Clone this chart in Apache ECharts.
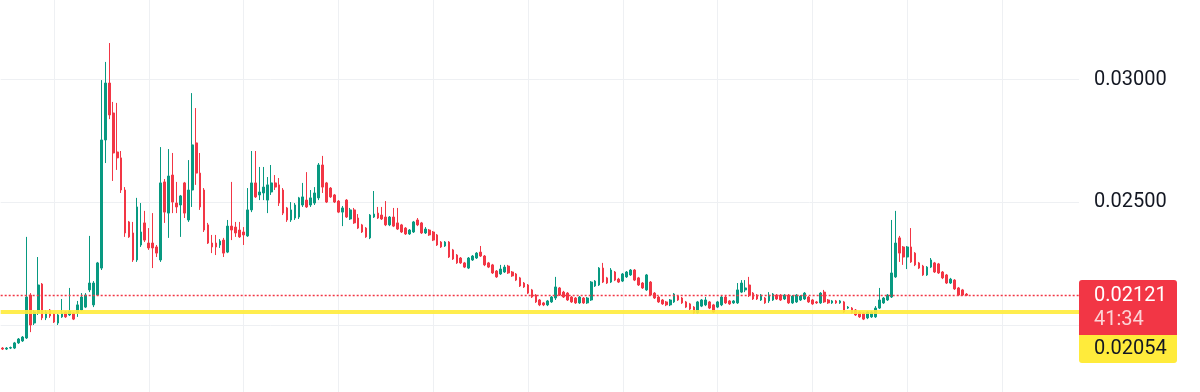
<!DOCTYPE html>
<html>
<head>
<meta charset="utf-8">
<script src="https://cdn.jsdelivr.net/npm/echarts@6.0.0/dist/echarts.min.js"></script>
<style>
html,body{margin:0;padding:0;background:#fff;}
#chart{width:1200px;height:392px;}
</style>
</head>
<body>
<div id="chart"></div>
<script>
// ---- data ----
const openPrices = [0.01906,0.01902,0.01906,0.01906,0.01927,0.01935,0.01947,0.02122,0.02008,0.02049,0.02167,0.02029,0.02061,0.02045,0.02008,0.02033,0.02053,0.02041,0.02049,0.02049,0.02061,0.02073,0.02143,0.02082,0.02122,0.02232,0.02754,0.02986,0.02864,0.02705,0.02681,0.02550,0.02420,0.02375,0.02265,0.02326,0.02416,0.02334,0.02334,0.02318,0.02265,0.02583,0.02456,0.02611,0.02497,0.02489,0.02579,0.02428,0.02550,0.02742,0.02619,0.02550,0.02408,0.02334,0.02334,0.02326,0.02346,0.02297,0.02403,0.02399,0.02387,0.02379,0.02363,0.02469,0.02579,0.02530,0.02538,0.02509,0.02542,0.02579,0.02571,0.02550,0.02477,0.02428,0.02436,0.02440,0.02489,0.02509,0.02489,0.02497,0.02518,0.02652,0.02579,0.02558,0.02530,0.02505,0.02460,0.02509,0.02432,0.02469,0.02436,0.02408,0.02395,0.02355,0.02440,0.02456,0.02448,0.02440,0.02408,0.02440,0.02416,0.02408,0.02395,0.02371,0.02379,0.02428,0.02416,0.02375,0.02387,0.02379,0.02367,0.02338,0.02322,0.02338,0.02306,0.02285,0.02273,0.02253,0.02232,0.02265,0.02273,0.02297,0.02281,0.02253,0.02245,0.02220,0.02208,0.02216,0.02240,0.02216,0.02208,0.02192,0.02171,0.02163,0.02143,0.02122,0.02102,0.02090,0.02082,0.02094,0.02110,0.02151,0.02134,0.02130,0.02114,0.02110,0.02090,0.02110,0.02090,0.02102,0.02159,0.02163,0.02232,0.02192,0.02175,0.02216,0.02187,0.02179,0.02196,0.02204,0.02224,0.02192,0.02171,0.02143,0.02175,0.02130,0.02114,0.02102,0.02094,0.02082,0.02094,0.02118,0.02110,0.02094,0.02086,0.02073,0.02049,0.02077,0.02082,0.02094,0.02082,0.02073,0.02082,0.02114,0.02098,0.02090,0.02090,0.02134,0.02143,0.02163,0.02130,0.02122,0.02102,0.02110,0.02098,0.02102,0.02122,0.02122,0.02106,0.02122,0.02090,0.02094,0.02102,0.02106,0.02114,0.02102,0.02094,0.02090,0.02134,0.02102,0.02090,0.02098,0.02090,0.02094,0.02069,0.02069,0.02061,0.02053,0.02049,0.02029,0.02033,0.02033,0.02069,0.02090,0.02102,0.02114,0.02196,0.02355,0.02318,0.02277,0.02318,0.02293,0.02253,0.02240,0.02204,0.02236,0.02253,0.02249,0.02216,0.02204,0.02171,0.02183,0.02151,0.02143,0.02126];
const closePrices = [0.01902,0.01906,0.01908,0.01927,0.01943,0.01951,0.02114,0.02000,0.02053,0.02163,0.02029,0.02053,0.02037,0.02012,0.02041,0.02049,0.02033,0.02057,0.02024,0.02082,0.02114,0.02122,0.02171,0.02171,0.02253,0.02754,0.02986,0.02856,0.02701,0.02681,0.02550,0.02375,0.02359,0.02265,0.02481,0.02379,0.02346,0.02314,0.02314,0.02293,0.02579,0.02460,0.02607,0.02501,0.02481,0.02526,0.02456,0.02550,0.02734,0.02619,0.02481,0.02387,0.02334,0.02318,0.02318,0.02342,0.02293,0.02403,0.02387,0.02375,0.02359,0.02367,0.02469,0.02579,0.02522,0.02542,0.02562,0.02571,0.02579,0.02562,0.02497,0.02456,0.02428,0.02469,0.02489,0.02518,0.02522,0.02481,0.02518,0.02538,0.02652,0.02562,0.02501,0.02522,0.02501,0.02460,0.02477,0.02440,0.02469,0.02416,0.02395,0.02379,0.02359,0.02448,0.02452,0.02436,0.02432,0.02408,0.02440,0.02403,0.02391,0.02379,0.02371,0.02387,0.02420,0.02408,0.02375,0.02391,0.02367,0.02346,0.02326,0.02318,0.02338,0.02277,0.02269,0.02253,0.02253,0.02236,0.02273,0.02281,0.02293,0.02281,0.02245,0.02236,0.02212,0.02196,0.02228,0.02236,0.02212,0.02200,0.02183,0.02159,0.02155,0.02130,0.02114,0.02094,0.02082,0.02082,0.02098,0.02114,0.02155,0.02122,0.02114,0.02102,0.02094,0.02090,0.02114,0.02090,0.02110,0.02175,0.02179,0.02232,0.02175,0.02171,0.02224,0.02183,0.02175,0.02208,0.02216,0.02224,0.02183,0.02163,0.02151,0.02204,0.02122,0.02110,0.02094,0.02086,0.02082,0.02102,0.02126,0.02102,0.02090,0.02073,0.02065,0.02049,0.02094,0.02102,0.02102,0.02069,0.02053,0.02094,0.02114,0.02090,0.02086,0.02098,0.02143,0.02171,0.02151,0.02122,0.02106,0.02106,0.02122,0.02090,0.02122,0.02126,0.02106,0.02102,0.02122,0.02090,0.02118,0.02122,0.02118,0.02130,0.02094,0.02086,0.02090,0.02130,0.02094,0.02090,0.02098,0.02090,0.02098,0.02053,0.02073,0.02049,0.02041,0.02033,0.02024,0.02053,0.02053,0.02069,0.02102,0.02110,0.02122,0.02212,0.02334,0.02293,0.02277,0.02318,0.02257,0.02245,0.02232,0.02204,0.02236,0.02265,0.02216,0.02212,0.02192,0.02171,0.02187,0.02147,0.02122,0.02122,0.02121];
const lowPrices = [0.01898,0.01898,0.01902,0.01902,0.01923,0.01931,0.01943,0.01971,0.02000,0.02041,0.02020,0.02020,0.02029,0.02008,0.02000,0.02029,0.02029,0.02037,0.02020,0.02033,0.02057,0.02069,0.02134,0.02073,0.02118,0.02224,0.02660,0.02839,0.02587,0.02632,0.02538,0.02359,0.02355,0.02257,0.02257,0.02318,0.02338,0.02306,0.02232,0.02277,0.02257,0.02416,0.02355,0.02456,0.02456,0.02359,0.02436,0.02420,0.02481,0.02571,0.02469,0.02379,0.02330,0.02293,0.02285,0.02314,0.02277,0.02293,0.02346,0.02359,0.02355,0.02326,0.02359,0.02460,0.02518,0.02509,0.02509,0.02456,0.02530,0.02550,0.02485,0.02448,0.02420,0.02420,0.02428,0.02432,0.02481,0.02477,0.02481,0.02489,0.02509,0.02538,0.02497,0.02518,0.02497,0.02456,0.02403,0.02436,0.02428,0.02412,0.02391,0.02375,0.02355,0.02350,0.02436,0.02432,0.02428,0.02403,0.02403,0.02399,0.02387,0.02375,0.02367,0.02367,0.02375,0.02403,0.02371,0.02371,0.02363,0.02342,0.02322,0.02314,0.02318,0.02273,0.02265,0.02249,0.02249,0.02232,0.02228,0.02261,0.02269,0.02277,0.02240,0.02232,0.02208,0.02192,0.02204,0.02212,0.02208,0.02196,0.02179,0.02155,0.02151,0.02126,0.02110,0.02090,0.02077,0.02077,0.02077,0.02090,0.02102,0.02118,0.02110,0.02098,0.02090,0.02086,0.02086,0.02086,0.02086,0.02098,0.02155,0.02159,0.02171,0.02167,0.02171,0.02179,0.02171,0.02175,0.02192,0.02200,0.02179,0.02159,0.02147,0.02139,0.02118,0.02106,0.02090,0.02082,0.02077,0.02077,0.02090,0.02098,0.02086,0.02069,0.02061,0.02045,0.02045,0.02073,0.02077,0.02065,0.02049,0.02069,0.02077,0.02086,0.02082,0.02086,0.02086,0.02130,0.02134,0.02114,0.02102,0.02102,0.02098,0.02086,0.02090,0.02098,0.02102,0.02098,0.02102,0.02086,0.02086,0.02090,0.02098,0.02102,0.02090,0.02082,0.02086,0.02086,0.02090,0.02086,0.02086,0.02086,0.02086,0.02049,0.02065,0.02045,0.02037,0.02029,0.02020,0.02024,0.02029,0.02029,0.02065,0.02086,0.02098,0.02110,0.02192,0.02257,0.02245,0.02228,0.02253,0.02240,0.02228,0.02200,0.02200,0.02232,0.02212,0.02208,0.02187,0.02167,0.02167,0.02143,0.02118,0.02118,0.02118];
const highPrices = [0.01910,0.01910,0.01912,0.01931,0.01947,0.01955,0.02359,0.02130,0.02061,0.02277,0.02171,0.02061,0.02065,0.02049,0.02045,0.02106,0.02057,0.02151,0.02053,0.02098,0.02130,0.02130,0.02363,0.02179,0.02257,0.02998,0.03072,0.03149,0.02909,0.02905,0.02709,0.02562,0.02424,0.02420,0.02518,0.02497,0.02465,0.02395,0.02456,0.02326,0.02725,0.02595,0.02717,0.02701,0.02583,0.02530,0.02583,0.02672,0.02945,0.02884,0.02701,0.02558,0.02416,0.02367,0.02367,0.02350,0.02355,0.02428,0.02583,0.02420,0.02420,0.02399,0.02558,0.02709,0.02709,0.02644,0.02644,0.02603,0.02652,0.02611,0.02599,0.02558,0.02481,0.02501,0.02497,0.02522,0.02579,0.02623,0.02550,0.02562,0.02660,0.02689,0.02583,0.02562,0.02534,0.02509,0.02485,0.02513,0.02477,0.02477,0.02452,0.02412,0.02399,0.02452,0.02546,0.02481,0.02481,0.02505,0.02444,0.02477,0.02477,0.02412,0.02399,0.02391,0.02424,0.02436,0.02420,0.02399,0.02391,0.02383,0.02371,0.02342,0.02342,0.02342,0.02310,0.02289,0.02277,0.02257,0.02277,0.02285,0.02297,0.02322,0.02285,0.02257,0.02249,0.02224,0.02245,0.02245,0.02245,0.02220,0.02212,0.02196,0.02175,0.02167,0.02147,0.02126,0.02106,0.02094,0.02102,0.02118,0.02196,0.02155,0.02139,0.02134,0.02118,0.02114,0.02118,0.02114,0.02114,0.02179,0.02183,0.02236,0.02253,0.02196,0.02232,0.02220,0.02192,0.02212,0.02220,0.02228,0.02228,0.02196,0.02175,0.02208,0.02179,0.02134,0.02118,0.02106,0.02098,0.02106,0.02130,0.02122,0.02114,0.02098,0.02090,0.02077,0.02098,0.02106,0.02114,0.02098,0.02086,0.02098,0.02118,0.02118,0.02102,0.02102,0.02171,0.02183,0.02183,0.02196,0.02134,0.02126,0.02126,0.02114,0.02134,0.02130,0.02126,0.02126,0.02126,0.02126,0.02122,0.02126,0.02122,0.02134,0.02118,0.02106,0.02098,0.02134,0.02143,0.02106,0.02102,0.02102,0.02102,0.02098,0.02077,0.02073,0.02065,0.02057,0.02053,0.02057,0.02057,0.02077,0.02151,0.02114,0.02126,0.02428,0.02465,0.02363,0.02322,0.02322,0.02395,0.02297,0.02257,0.02245,0.02240,0.02273,0.02257,0.02253,0.02220,0.02208,0.02192,0.02187,0.02155,0.02147,0.02130];
const futureSlots = 28;               // empty bars to the right of the last candle
const priceTicks = [0.020, 0.025, 0.030];
const lastPrice = 0.02121;
const countdown = '41:34';
const levelPrice = 0.02054;

// ---- build ----
const categories = [];
for (let i = 0; i < openPrices.length + futureSlots; i++) categories.push(String(i));
const candles = openPrices.map((o, i) => [o, closePrices[i], lowPrices[i], highPrices[i]]);

const UP = '#089981', DOWN = '#F23645';
const FONT = 'Roboto, "Noto Sans", sans-serif';
const GRIDC = '#EEF0F3';

const chart = echarts.init(document.getElementById('chart'), null, {renderer: 'canvas'});
chart.setOption({
  animation: false,
  backgroundColor: '#ffffff',
  grid: [
    {left: 0.675, right: 121, top: 79.6, height: 245.4},   // price scale 0.02 .. 0.03
    {left: 0.675, right: 121, top: 0, bottom: 0}           // full height, time grid lines
  ],
  xAxis: [{
    type: 'category',
    gridIndex: 0,
    data: categories,
    boundaryGap: true,
    axisLine: {show: false},
    axisTick: {show: false},
    axisLabel: {show: false},
    splitLine: {show: false}
  }, {
    type: 'category',
    gridIndex: 1,
    data: categories,
    boundaryGap: true,
    axisLine: {show: false},
    axisTick: {show: false},
    axisLabel: {show: false},
    splitLine: {
      show: true,
      alignWithLabel: true,
      interval: function (i) { return i >= 13 && (i - 13) % 24 === 0; },
      lineStyle: {color: GRIDC, width: 1}
    }
  }],
  yAxis: [{
    type: 'value',
    gridIndex: 0,
    position: 'right',
    min: priceTicks[0],
    max: priceTicks[priceTicks.length - 1],
    interval: 0.005,
    axisLine: {show: false},
    axisTick: {show: false},
    axisLabel: {
      margin: 15,
      color: '#131722',
      fontSize: 20,
      fontFamily: FONT,
      formatter: function (v) { return Math.abs(v - 0.02) < 1e-9 ? '' : v.toFixed(5); }
    },
    splitLine: {show: true, lineStyle: {color: GRIDC, width: 1}}
  }, {
    type: 'value',
    gridIndex: 1,
    show: false,
    min: 0, max: 1
  }],
  series: [{
    type: 'candlestick',
    xAxisIndex: 0,
    yAxisIndex: 0,
    data: candles,
    barWidth: 2.2,
    clip: false,
    z: 3,
    itemStyle: {
      color: UP, color0: DOWN,
      borderColor: UP, borderColor0: DOWN,
      borderWidth: 1
    }
  }, {
    // carrier for the two horizontal price lines
    type: 'line',
    xAxisIndex: 0,
    yAxisIndex: 0,
    data: [lastPrice],
    showSymbol: false,
    silent: true,
    lineStyle: {opacity: 0},
    z: 4,
    markLine: {
      silent: true,
      precision: 5,
      symbol: ['none', 'none'],
      label: {show: false},
      data: [
        {yAxis: lastPrice, lineStyle: {color: DOWN, width: 1.3, type: [2, 2], opacity: 1}},
        {yAxis: levelPrice, lineStyle: {color: '#FFEB3B', width: 4, type: 'solid', opacity: 0.9}}
      ]
    }
  }]
});

const yLast = chart.convertToPixel({yAxisIndex: 0}, lastPrice);
chart.setOption({
  graphic: [
    {type: 'rect', z: 100, shape: {x: 1079, y: yLast - 15.3, width: 98, height: 55, r: [3, 3, 0, 0]}, style: {fill: '#F23645'}},
    {type: 'text', z: 101, x: 1094, y: yLast + 1, style: {text: lastPrice.toFixed(5), fill: '#ffffff', font: '20px ' + FONT, verticalAlign: 'middle', align: 'left'}},
    {type: 'text', z: 101, x: 1094, y: yLast + 25, style: {text: countdown, fill: 'rgba(255,255,255,0.78)', font: '20px ' + FONT, verticalAlign: 'middle', align: 'left'}},
    {type: 'rect', z: 100, shape: {x: 1079, y: yLast + 39.7, width: 98, height: 28, r: [0, 0, 3, 3]}, style: {fill: '#FFEB3B'}},
    {type: 'text', z: 101, x: 1094, y: yLast + 54, style: {text: levelPrice.toFixed(5), fill: '#131722', font: '20px ' + FONT, verticalAlign: 'middle', align: 'left'}}
  ]
});
</script>
</body>
</html>
